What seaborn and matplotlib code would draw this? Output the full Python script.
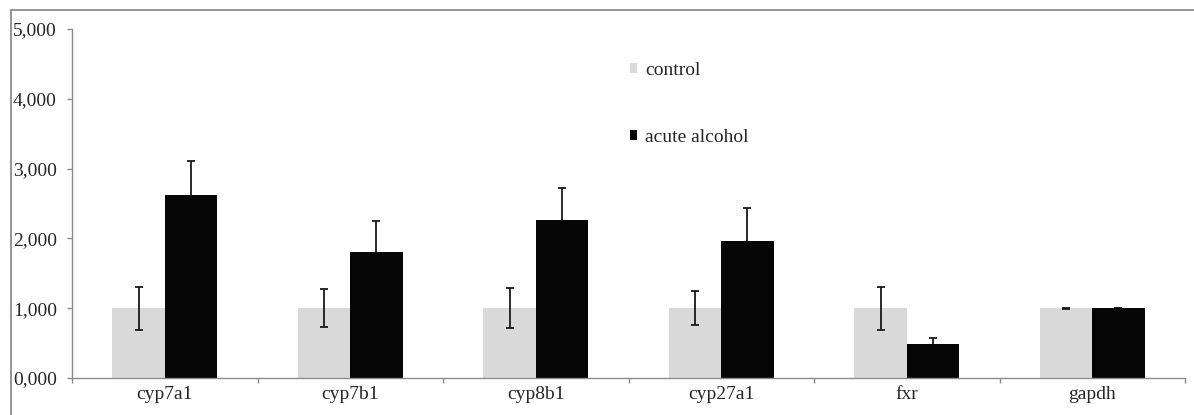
import matplotlib
matplotlib.use("Agg")
import matplotlib.pyplot as plt
import seaborn as sns
import pandas as pd
import numpy as np
from matplotlib.ticker import FuncFormatter, FixedLocator
from matplotlib.patches import Patch
from matplotlib.lines import Line2D

genes = ["cyp7a1", "cyp7b1", "cyp8b1", "cyp27a1", "fxr", "gapdh"]
groups = ["control", "acute alcohol"]
control_vals = [1.00, 1.00, 1.00, 1.00, 1.00, 1.00]
control_err = [0.31, 0.27, 0.29, 0.24, 0.31, 0.005]
alcohol_vals = [2.62, 1.80, 2.26, 1.96, 0.48, 1.00]
alcohol_err = [0.49, 0.45, 0.46, 0.47, 0.10, 0.00]
yticks = [0, 1, 2, 3, 4, 5]

sns.set_style("white")
plt.rcParams["font.family"] = ["Liberation Serif", "DejaVu Serif"]

PX = 0.72  # points per pixel at 100 dpi
FS = 14

df = pd.DataFrame({
    "gene": genes * 2,
    "group": [groups[0]] * len(genes) + [groups[1]] * len(genes),
    "value": control_vals + alcohol_vals,
})

fig = plt.figure(figsize=(11.94, 4.15), dpi=100)
ax = fig.add_axes([72 / 1194, 1 - 378 / 415, (1185 - 72) / 1194, (378 - 29) / 415])

palette = {"control": "#D9D9D9", "acute alcohol": "#050505"}
sns.barplot(data=df, x="gene", y="value", hue="group", hue_order=groups,
            order=genes, palette=palette, width=0.566, errorbar=None,
            saturation=1, ax=ax, linewidth=0)

errs = [control_err, alcohol_err]
zorders = [5, 0.5]
for cont, err, z in zip(ax.containers, errs, zorders):
    xs = [p.get_x() + p.get_width() / 2 for p in cont.patches]
    hs = [p.get_height() for p in cont.patches]
    ax.errorbar(xs, hs, yerr=err, fmt="none", ecolor="#1a1a1a",
                elinewidth=1.3, capsize=3, capthick=1.3, zorder=z)

ax.set_ylim(0, 5)
ax.set_xlim(-0.5, len(genes) - 0.5)
ax.yaxis.set_major_locator(FixedLocator(yticks))
ax.yaxis.set_major_formatter(FuncFormatter(lambda v, p: f"{v:.3f}".replace(".", ",")))
ax.set_xlabel("")
ax.set_ylabel("")

for s in ["top", "right"]:
    ax.spines[s].set_visible(False)
for s in ["left", "bottom"]:
    ax.spines[s].set_color("#8c8c8c")
    ax.spines[s].set_linewidth(1.0)

ax.tick_params(axis="y", which="major", direction="out", length=5 * PX, width=1,
               color="#8c8c8c", labelsize=FS, pad=54 * PX, left=True)
for lab in ax.get_yticklabels():
    lab.set_horizontalalignment("left")
ax.tick_params(axis="x", which="major", length=0, labelsize=FS, pad=8 * PX)
ax.xaxis.set_minor_locator(FixedLocator(np.arange(-0.5, len(genes), 1.0)))
ax.tick_params(axis="x", which="minor", direction="out", length=5 * PX, width=1,
               color="#8c8c8c", bottom=True)

if ax.get_legend() is not None:
    ax.get_legend().remove()
handles = [Patch(facecolor=palette[g], edgecolor="none") for g in groups]
leg = ax.legend(handles, groups, loc="upper left", bbox_to_anchor=(0.501, 0.905),
                frameon=False, fontsize=FS, handlelength=0.38, handleheight=0.38,
                handletextpad=0.4, labelspacing=2.55, borderaxespad=0, borderpad=0)

# outer chart-area frame (top and left edges visible)
fig.add_artist(Line2D([11 / 1194, 1.0], [1 - 10.5 / 415, 1 - 10.5 / 415],
                      transform=fig.transFigure, color="#8c8c8c", linewidth=1.3))
fig.add_artist(Line2D([11 / 1194, 11 / 1194], [0.0, 1 - 10.5 / 415],
                      transform=fig.transFigure, color="#8c8c8c", linewidth=1.3))

fig.savefig("out.png", dpi=100)
